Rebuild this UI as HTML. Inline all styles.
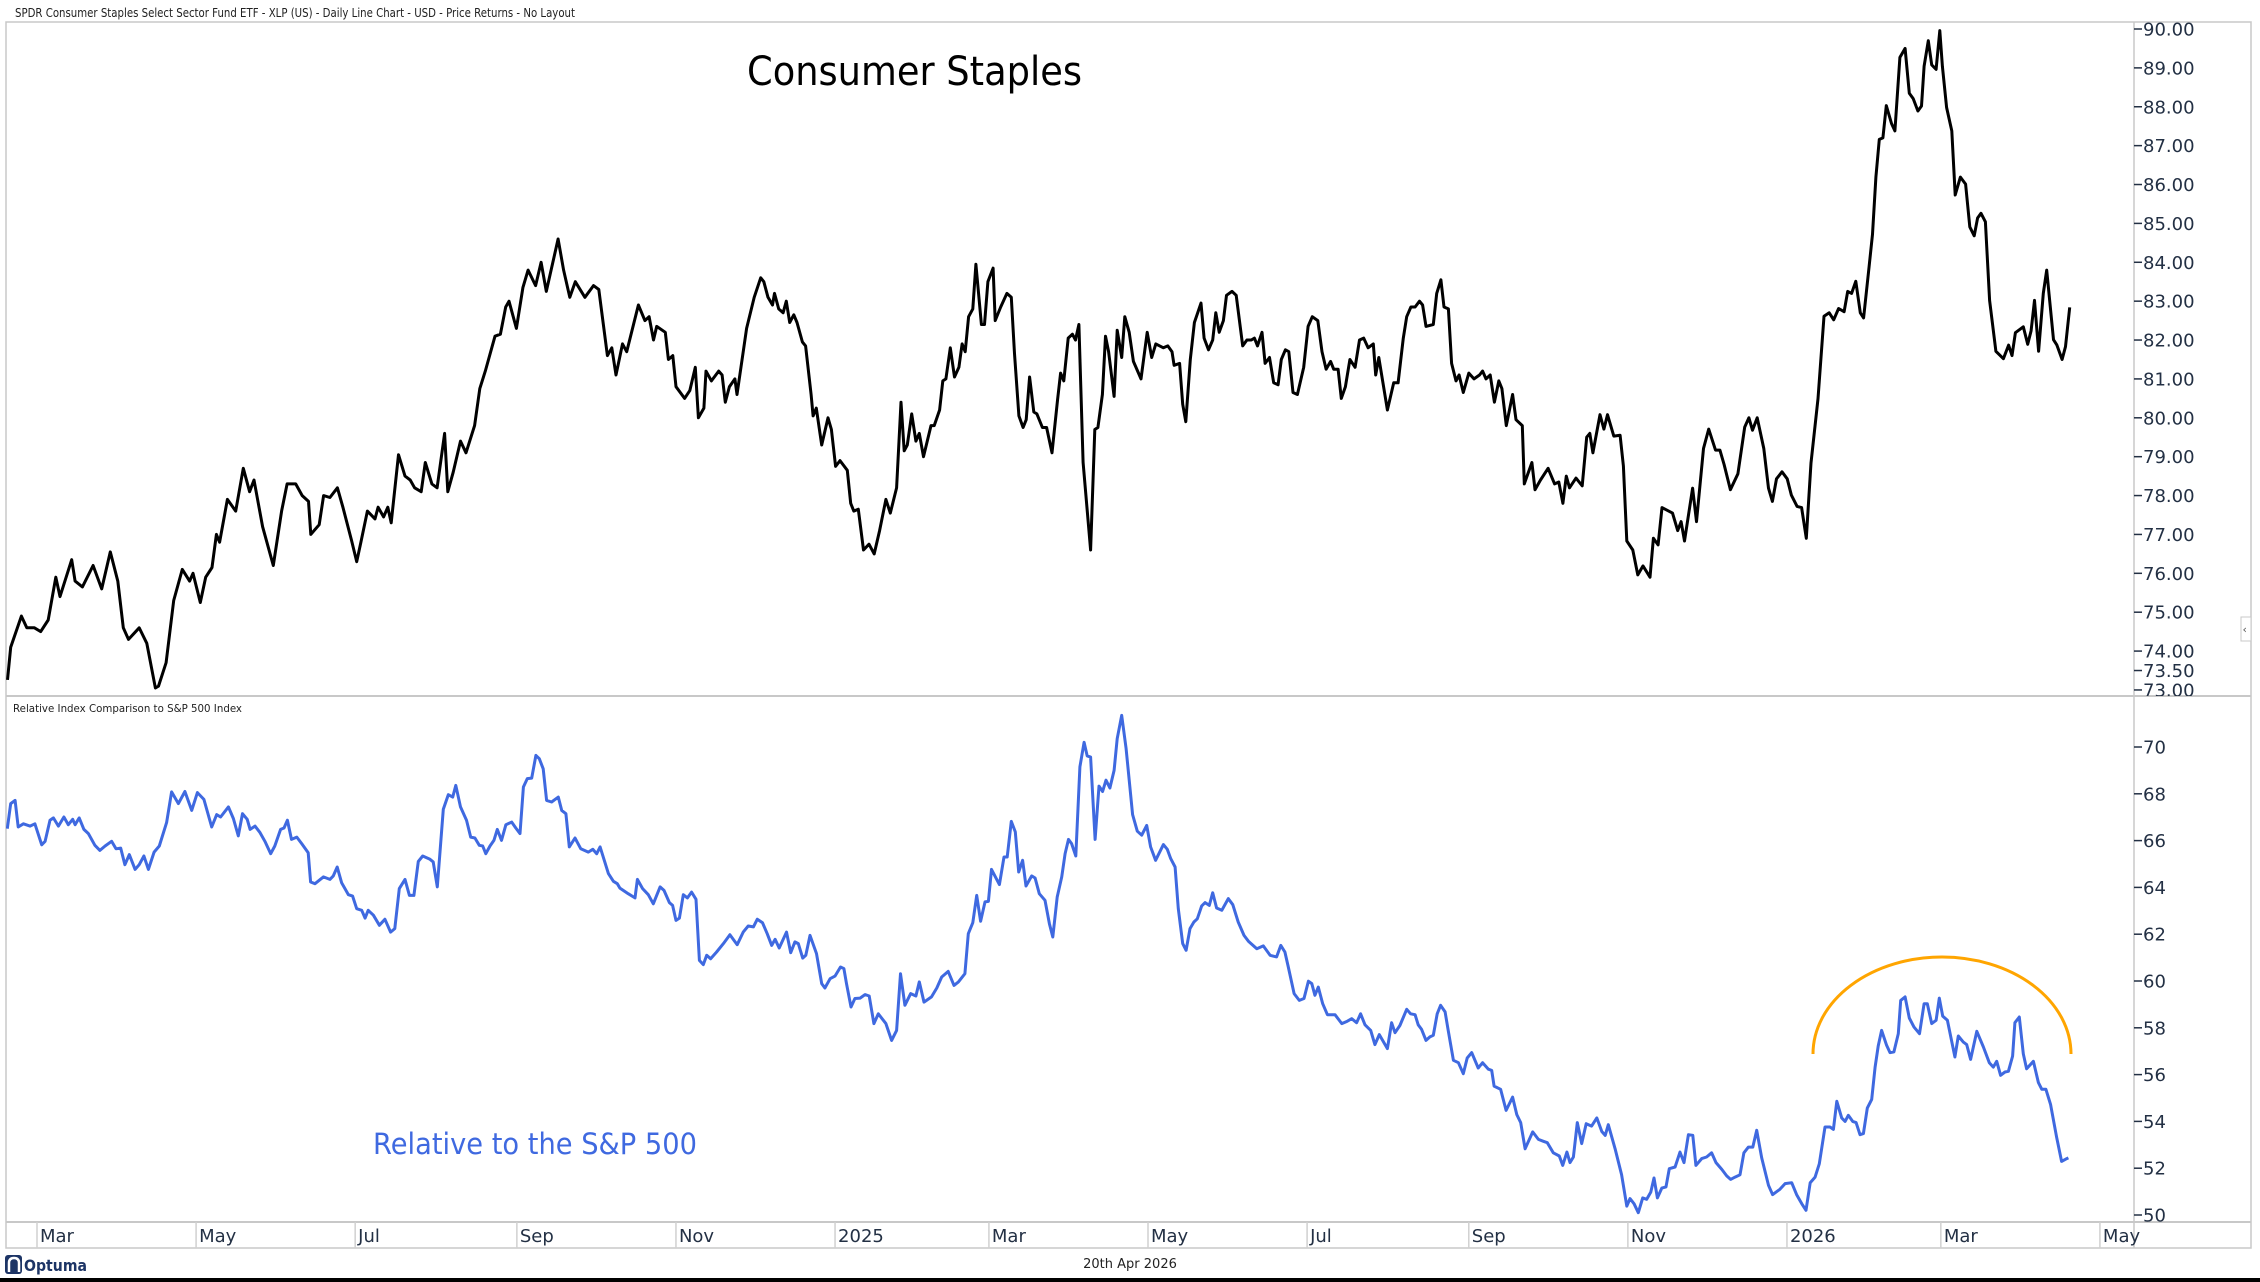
<!DOCTYPE html>
<html>
<head>
<meta charset="utf-8">
<style>
  html,body{margin:0;padding:0;background:#fff;}
  svg{display:block;}
  text{font-family:"DejaVu Sans","Liberation Sans",sans-serif;}
</style>
</head>
<body>
<svg id="chart" width="2260" height="1282" viewBox="0 0 2260 1282" xmlns="http://www.w3.org/2000/svg">
  <defs>
    <clipPath id="topClip"><rect x="6" y="22" width="2128" height="674"/></clipPath>
    <clipPath id="botClip"><rect x="6" y="697" width="2128" height="525"/></clipPath>
    <clipPath id="topAxisClip"><rect x="2134" y="22" width="117" height="674"/></clipPath>
    <clipPath id="botAxisClip"><rect x="2134" y="697" width="117" height="525"/></clipPath>
  </defs>
  <rect x="0" y="0" width="2260" height="1282" fill="#fff"/>
  <text x="15" y="17" font-size="12.5" fill="#222" font-family="Liberation Sans, sans-serif" textLength="560" lengthAdjust="spacingAndGlyphs">SPDR Consumer Staples Select Sector Fund ETF - XLP (US) - Daily Line Chart - USD - Price Returns - No Layout</text>

  <!-- frame -->
  <rect x="6" y="22" width="2245" height="1226" fill="none" stroke="#c8c8c8" stroke-width="1.5"/>
  <line x1="6" y1="696" x2="2251" y2="696" stroke="#c8c8c8" stroke-width="2"/>
  <line x1="2134" y1="22" x2="2134" y2="1248" stroke="#c8c8c8" stroke-width="1.5"/>
  <line x1="6" y1="1222" x2="2251" y2="1222" stroke="#c8c8c8" stroke-width="2"/>

  <g id="topAxis" clip-path="url(#topAxisClip)"></g>
  <g id="botAxis" clip-path="url(#botAxisClip)"></g>
  <g id="xAxis"></g>

  <g clip-path="url(#topClip)">
    <path id="priceLine" fill="none" stroke="#000" stroke-width="3" stroke-linejoin="round"/>
  </g>
  <g clip-path="url(#botClip)">
    <path id="relLine" fill="none" stroke="#3f69e0" stroke-width="3" stroke-linejoin="round"/>
    <path d="M1813,1054 A129,97 0 0 1 2071,1054" fill="none" stroke="#ffa500" stroke-width="3"/>
  </g>

  <text x="747" y="85" font-size="40" fill="#000" font-family="Liberation Sans, sans-serif" textLength="335" lengthAdjust="spacingAndGlyphs">Consumer Staples</text>
  <text x="13" y="712" font-size="11" fill="#222" font-family="Liberation Sans, sans-serif" textLength="229" lengthAdjust="spacingAndGlyphs">Relative Index Comparison to S&amp;P 500 Index</text>
  <text x="373" y="1154" font-size="29" fill="#3f69e0" font-family="Liberation Sans, sans-serif" textLength="324" lengthAdjust="spacingAndGlyphs">Relative to the S&amp;P 500</text>

  <!-- collapse button -->
  <rect x="2241" y="617" width="10" height="24" fill="#fff" stroke="#c8c8c8"/>
  <text x="2242.5" y="633" font-size="11" fill="#555">‹</text>

  <!-- footer -->
  <g>
    <rect x="5" y="1255" width="17" height="19" rx="3" fill="#1d3566"/>
    <path d="M9,1272 L9,1263 Q9,1258 14,1258 Q19,1258 19,1263 L19,1272" fill="none" stroke="#fff" stroke-width="2.5"/>
    <text x="24" y="1271" font-size="16" font-weight="bold" fill="#1d3566" font-family="Liberation Sans, sans-serif" textLength="63" lengthAdjust="spacingAndGlyphs">Optuma</text>
  </g>
  <text x="1130" y="1268" font-size="13" fill="#222" text-anchor="middle" font-family="Liberation Sans, sans-serif">20th Apr 2026</text>
  <rect x="0" y="1278" width="2260" height="4" fill="#000"/>
</svg>

<script>
// ---- data: days since 2024-03-01 ----
const priceDays = [-11.3,-10.1,-6,-3.9,-1,1.4,4.3,7.2,8.8,13.3,14.6,17.4,21.5,24.8,28.1,31,33.1,35.1,39.2,42.1,45.4,46.6,49.5,52.4,55.7,58.5,59.8,62.6,64.7,67.1,68.8,70,73,76.2,79.1,81.5,83.2,86.5,90.6,93.8,95.9,99.2,101.7,104.1,105,108.2,109.9,112.3,115.2,117.3,120.6,122.6,124.2,126.7,129.6,130.8,132.9,134.5,135.8,138.6,141.1,143.1,144.8,147.3,148.9,151.4,153.4,156.3,157.5,159.6,162.4,164.5,167.8,169.8,171.9,175.6,177.7,179.7,181,183.8,186.3,188.3,191.2,193.3,195.3,
199.8,201.9,204.3,206.4,210.1,213.4,215.4,218.7,220.4,222,224.5,226.1,230.6,233.1,234.7,236.4,237.6,240.9,242.1,243.8,245,248.3,250.3,252.4,253.6,255.7,256.5,258.6,261.4,262.7,263.9,265.5,267.6,268.4,270.9,272.1,275,277.5,278.7,280.3,282,282.8,284.4,286.1,287.3,288.6,290.2,291.4,293.5,294.7,296.8,297.6,298.8,300.9,303.3,304.6,306.2,307.9,310.7,312,313.2,314.9,316.9,319,321,323.1,325.5,327.2,329.6,331.3,332.5,333.7,335.4,337,338.3,339.9,342.8,344,346.1,347.3,348.5,350.2,351.8,353.5,354.7,355.9,357.2,358.8,360,362.1,363.3,364.6,366.6,367.4,369.5,371.9,373.6,374.8,376.5,378.1,379.3,380.6,382.2,383.4,385.5,387.1,389.2,391.3,392.5,393.7,395.4,397,398.2,399.5,
401.1,404,405.6,406.8,408.5,409.7,410.9,413,414.2,415.9,417.1,418.8,420.4,423.3,425.7,427.4,429,431.9,433.6,435.2,436,438.1,439.3,440.5,442.2,443.8,446.3,447.5,449.2,450.8,452,453.3,454.9,456.1,458.2,459.8,462.3,463.9,465.6,466.8,468,469.7,470.9,472.6,474.2,475.9,477.1,478.7,480,481.6,483.3,485.7,487.4,489,491.1,492.7,494.3,496,497.2,498.9,500.1,501.7,503.4,505.4,507.1,508.7,510.4,512.4,513.3,514.5,517.8,520.2,521.9,523.9,525.2,526.8,528.4,530.1,531.3,532.6,535.4,536.7,538.3,539.5,541.2,542.4,544.1,545.3,546.9,549,551,553.1,554.3,555.6,557.2,558.8,560.5,561.7,563.4,565.8,567.1,569.5,570.3,573.2,574.4,576.5,579.4,581.9,583.5,585.1,586.4,587.6,590.1,592.5,594.2,595.4,596.6,
599.3,600.8,602.2,604.6,607,608.3,609.6,611.9,613.8,615.8,618.5,619.8,621.6,623.1,627.1,629.1,630.4,631.7,634.8,636.3,639,641,643.6,645.3,646.9,649.3,652.2,654.8,656.4,657.8,659.6,662.1,663.9,665.4,667,669.1,671.1,672.7,674.9,676.6,678.4,680.2,682.9,685.2,687.2,688.9,690.8,692.9,694.3,695.8,697.4,699.1,700.4,702.5,703.8,705.1,706.4,707.8,709.1,711.1,712.4,714.3,716.3,717.9,719.4,721.2,722.6,723.6,725.2,726.5,728.2,729.6,730.6,732.2,734.2,735.5,737.5,739.5,741.1,742.8,744.1,745.4,747.1,748.7,751.1,754,756,757.3,758.6,761.6,763.3,764.6,765.9,767.5,769.3,770.6,773.2,774.5,776.5,777.8,779.4];

const priceValues = [73.26,74.1,74.9,74.6,74.6,74.5,74.8,75.9,75.4,76.35,75.8,75.65,76.2,75.6,76.55,75.8,74.6,74.3,74.6,74.2,73.05,73.1,73.7,75.3,76.1,75.8,76.0,75.25,75.9,76.15,77.0,76.8,77.9,77.6,78.7,78.1,78.4,77.2,76.2,77.6,78.3,78.3,78.0,77.85,77.0,77.25,78.0,77.95,78.2,77.7,76.85,76.3,76.8,77.6,77.4,77.7,77.45,77.7,77.3,79.05,78.5,78.4,78.2,78.1,78.85,78.3,78.2,79.6,78.1,78.6,79.4,79.1,79.8,80.75,81.2,82.1,82.15,82.85,83.0,82.3,83.35,83.8,83.4,84.0,83.25,
84.6,83.8,83.1,83.5,83.1,83.4,83.3,81.6,81.8,81.1,81.9,81.7,82.9,82.5,82.6,82.0,82.35,82.2,81.5,81.6,80.8,80.5,80.7,81.3,80.0,80.25,81.2,80.95,81.2,81.1,80.4,80.8,81.0,80.6,81.75,82.3,83.1,83.6,83.5,83.1,82.9,83.2,82.8,82.7,83.0,82.45,82.65,82.45,81.95,81.85,80.6,80.05,80.25,79.3,80.0,79.7,78.75,78.9,78.65,77.8,77.6,77.65,76.6,76.75,76.5,77.1,77.9,77.55,78.2,80.4,79.15,79.3,80.1,79.4,79.6,79.0,79.8,79.8,80.2,80.95,81.0,81.8,81.05,81.3,81.9,81.7,82.6,82.8,83.95,82.4,82.4,83.5,83.85,82.5,82.85,83.2,83.1,81.65,80.05,79.75,79.95,81.05,80.15,80.1,79.75,79.75,79.1,80.45,81.15,80.95,82.05,82.15,82.0,82.4,
78.85,76.6,79.7,79.75,80.6,82.1,81.7,80.55,82.25,81.55,82.6,82.2,81.45,81.0,82.2,81.55,81.9,81.8,81.85,81.7,81.35,81.4,80.35,79.9,81.5,82.45,82.95,82.05,81.75,82.0,82.7,82.2,82.5,83.15,83.25,83.15,81.85,82.0,82.0,82.05,81.85,82.2,81.4,81.55,80.9,80.85,81.5,81.75,81.7,80.65,80.6,81.3,82.35,82.6,82.5,81.7,81.25,81.45,81.25,81.25,80.5,80.8,81.5,81.3,82.0,82.05,81.8,81.9,81.1,81.55,80.2,80.9,80.9,82.05,82.6,82.85,82.85,83.0,82.9,82.35,82.4,83.2,83.55,82.85,82.8,81.4,80.95,81.1,80.65,81.15,81.0,81.1,81.2,81.0,81.1,80.4,80.95,80.75,79.8,80.6,79.95,79.8,78.3,78.85,78.15,78.4,78.7,78.3,78.35,77.8,78.5,78.2,78.45,78.25,79.5,79.6,79.1,
80.08,79.71,80.08,79.53,79.55,78.76,76.83,76.6,75.96,76.19,75.9,76.9,76.73,77.69,77.55,77.1,77.33,76.83,78.19,77.33,79.21,79.71,79.17,79.17,78.8,78.15,78.56,79.76,80.0,79.68,80.0,79.21,78.19,77.85,78.43,78.61,78.43,78.01,77.72,77.69,76.9,78.84,80.49,82.61,82.7,82.52,82.81,82.73,83.25,83.2,83.51,82.7,82.57,83.89,84.72,86.19,87.16,87.2,88.03,87.57,87.38,89.27,89.5,88.35,88.21,87.89,88.02,89.04,89.7,89.08,88.96,89.96,89.04,87.98,87.38,85.73,86.19,86.01,84.91,84.68,85.14,85.26,85.04,83.02,81.71,81.52,81.87,81.6,82.19,82.34,81.89,82.24,83.02,81.71,83.2,83.8,82.01,81.87,81.5,81.83,82.84];

const relDays = [-11.4,-10.1,-8.4,-7.2,-5.2,-2.7,-0.8,1.8,3.1,5,6.3,8.2,10.3,12,13.7,14.6,16.2,18,19.7,22.2,24.1,26.1,28.6,30.3,32.1,33.7,35.4,37.6,39.2,41,42.7,44.9,46.9,49.7,51.6,54.2,56.7,59.3,61.5,64,67,68.9,70.4,73.4,75.3,77.2,78.8,80.6,81.7,83.6,85.5,87.4,89.6,91.2,93.4,94.7,96,97.6,99.6,101.5,104,104.9,106.6,109.8,112.3,113.6,115.1,116.8,119.4,121,122.6,124.5,125.8,127,129,131.3,133.4,135.6,137.2,138.9,141.1,142.8,144.5,146.2,147.9,150.7,151.9,153.5,155.8,157.7,159.4,160.6,162.4,164.7,166.3,167.9,169.6,170.9,172.1,173.7,175.2,176.5,178.1,179.8,182,183.6,
185.2,186.5,188,189.7,191.3,192.6,194.1,195.4,197.3,199.9,201.2,202.8,204.1,206.3,208.5,211.4,213.1,214.6,215.9,219.1,221,222.5,223.5,226.7,229.3,230.2,232.2,234.4,236.3,238.9,240.4,242.5,243.7,245,246.3,247.8,249.4,251,252.7,254,255.5,256.8,258.3,260.6,263.2,265.7,268.5,270.8,272.7,274.7,276.2,278.2,280,281.7,283,284.6,287.4,289,290.6,291.9,293.6,294.8,296.4,298.9,300.9,302.1,304.1,306,308.1,309.4,310.4,312.1,313.6,315.6,317.5,319.1,320.9,322.6,325.5,327.7,329.6,331.1,332.8,335,337,338.3,340.1,343,345,346.9,349.4,351.6,353.3,355.8,357.1,358.8,360.3,361.8,363.5,364.8,366,369,370.8,372,373.6,375.1,376.4,377.9,379.2,381.4,382.7,384.3,
386.5,388.2,389.5,391.2,392.9,394.2,395.5,396.7,398.3,399.9,401.5,402.7,404,405.7,407.2,408.6,409.9,411.4,413,414.2,415.9,417.6,420.1,421.9,423.6,425.5,427,428.9,431.9,433.4,434.7,436.4,437.6,439.3,440.6,442.1,443.6,444.9,446.6,447.9,449.5,450.8,452.3,454.3,456.8,458.5,460.6,462.8,464.5,467.7,470.2,472.8,475.3,476.9,478.5,479.8,482,484,485.8,487.5,488.8,490,491.3,493,494.8,497.7,500.3,502.4,504.1,506,507.5,509.2,511.4,513,514.7,517.8,519.4,520.7,522.6,525.2,526.7,528.4,529.6,530.9,532.6,534.1,535.4,536.9,538.2,539.9,541.1,543.1,545,546.9,548.4,550.1,552.6,554.3,556.5,557.8,558.7,561.2,563.3,565.8,567.4,568.9,570.6,573.5,575.7,577.6,579.1,581.4,583.7,
585,586.6,587.8,589.1,590.6,592.3,594,596.1,598.1,600,601.3,602.5,605.1,607.6,609.6,610.8,612.4,614,615.7,617.2,618.8,620,621.3,623,624.6,625.9,628.1,630,631.5,633.2,634.9,636.1,638.3,640.2,642.1,643.8,646,647.9,649.4,651.1,653,654.5,656.2,657.9,659.4,661.3,663.9,665.5,668.3,670.3,672.8,674.7,676.7,678.3,679.9,681.8,683.4,685.6,687.5,688.8,690.1,692,693.3,694.5,696.2,697.5,699,700.3,701.8,703.5,704.8,706,707.3,709.2,710.5,712,713.7,714.6,716.3,717.9,719.7,721.8,723.6,724.8,726.5,728.2,729.4,730.7,732.5,735.4,736.7,738.6,739.9,741.4,743.8,746.3,748.6,750.1,751.4,752.9,754.6,755.9,757.5,758.4,760.1,761.6,762.9,765.5,767.4,768.7,770.3,772.1,774.4,776.3,778.3,778.9];

const relValues = [66.51,67.58,67.72,66.58,66.72,66.62,66.72,65.82,65.97,66.87,66.97,66.62,67.01,66.68,66.91,66.68,66.97,66.48,66.3,65.8,65.58,65.77,65.97,65.65,65.68,64.97,65.4,64.77,64.97,65.34,64.77,65.51,65.77,66.77,68.08,67.58,68.1,67.29,68.05,67.76,66.58,67.11,67.01,67.44,66.94,66.2,67.15,66.91,66.48,66.62,66.34,65.97,65.44,65.77,66.48,66.54,66.87,66.05,66.15,65.87,65.48,64.23,64.16,64.45,64.34,64.49,64.87,64.2,63.69,63.63,63.09,63.02,62.69,63.02,62.81,62.38,62.64,62.09,62.24,63.95,64.34,63.66,63.66,65.11,65.34,65.2,65.09,64.02,67.34,67.96,67.86,68.36,67.44,66.87,66.15,66.11,65.8,65.77,65.44,65.77,66.01,66.48,66.01,66.68,66.79,66.54,
66.3,68.29,68.65,68.67,69.64,69.5,69.07,67.72,67.65,67.86,67.29,67.15,65.73,66.11,65.65,65.51,65.63,65.44,65.73,64.59,64.26,64.16,63.97,63.73,63.55,64.34,63.95,63.69,63.3,64.02,63.87,63.35,63.23,62.59,62.69,63.69,63.55,63.8,63.49,60.88,60.7,61.1,60.95,61.24,61.6,61.98,61.55,62.09,62.35,62.31,62.64,62.49,62.02,61.52,61.78,61.41,62.09,61.21,61.67,61.6,60.98,61.1,61.95,61.17,59.89,59.7,60.1,60.21,60.6,60.53,59.89,58.89,59.25,59.27,59.42,59.36,58.18,58.6,58.18,57.46,57.89,60.31,58.96,59.46,59.36,59.96,59.1,59.32,59.7,60.17,60.41,59.81,59.96,60.31,62.02,62.49,63.66,62.55,63.38,63.4,64.77,64.12,65.3,65.3,66.82,66.37,64.66,65.16,64.06,64.49,64.4,63.73,
63.45,62.45,61.88,63.59,64.44,65.44,66.05,65.87,65.34,69.15,70.2,69.62,69.57,66.05,68.33,68.1,68.58,68.25,69.0,70.36,71.35,69.93,67.11,66.4,66.23,66.65,65.73,65.16,65.83,65.63,65.23,64.87,63.09,61.6,61.31,62.24,62.52,62.66,63.21,63.35,63.23,63.77,63.12,63.02,63.52,63.26,62.52,61.95,61.7,61.38,61.5,61.1,61.03,61.52,61.24,60.6,59.46,59.17,59.25,59.99,59.89,59.39,59.74,59.03,58.56,58.56,58.18,58.28,58.39,58.22,58.6,58.13,57.89,57.28,57.71,57.11,58.22,57.79,58.1,58.79,58.6,58.56,58.13,57.93,57.46,57.61,57.68,58.6,58.96,58.68,57.89,56.61,56.51,56.04,56.71,56.94,56.28,56.51,56.23,56.18,55.51,55.37,54.47,55.04,54.29,53.95,52.83,53.55,53.23,53.15,53.09,52.66,52.52,
52.12,52.69,52.24,52.48,53.95,53.05,53.9,53.8,54.15,53.57,53.4,53.86,52.83,51.72,50.38,50.7,50.48,50.1,50.73,50.67,50.98,51.58,50.73,51.15,51.2,51.98,52.05,52.69,52.24,53.43,53.4,52.12,52.41,52.48,52.66,52.24,51.95,51.67,51.52,51.62,51.72,52.66,52.9,52.9,53.62,52.44,51.27,50.87,51.1,51.34,51.38,50.87,50.48,50.2,51.38,51.62,52.19,53.76,53.76,53.66,54.86,54.15,54.0,54.26,54.0,53.95,53.43,53.48,54.57,54.94,56.32,57.22,57.89,57.25,56.94,56.97,57.75,59.17,59.32,58.42,58.03,57.75,59.03,59.03,58.18,58.32,59.27,58.5,58.32,56.75,57.65,57.39,57.28,56.65,57.85,57.18,56.51,56.32,56.57,55.97,56.11,56.14,56.79,58.22,58.46,56.89,56.25,56.57,55.66,55.37,55.37,54.72,53.33,52.29,52.41,52.44];

const priceTicks = [90,89,88,87,86,85,84,83,82,81,80,79,78,77,76,75,74,73.5,73];
const relTicks = [70,68,66,64,62,60,58,56,54,52,50];
const monthLabels = ["Mar","May","Jul","Sep","Nov","2025","Mar","May","Jul","Sep","Nov","2026","Mar","May"];
const monthDays = [0,61,122,184,245,306,365,426,487,549,610,671,730,791];

// ---- scales ----
function xOf(day){ return 37 + day * 2.608; }
function yTop(v){ return 29 + (90 - v) * 38.88; }
function yBot(v){ return 747 + (70 - v) * 23.4; }
const NS = "http://www.w3.org/2000/svg";

function buildPath(days, vals, yf){
  let d = "";
  const n = Math.min(days.length, vals.length);
  for (let i = 0; i < n; i++){
    d += (i ? "L" : "M") + xOf(days[i]).toFixed(1) + "," + yf(vals[i]).toFixed(1);
  }
  return d;
}
document.getElementById("priceLine").setAttribute("d", buildPath(priceDays, priceValues, yTop));
document.getElementById("relLine").setAttribute("d", buildPath(relDays, relValues, yBot));

// ---- y axes ----
const topAxis = document.getElementById("topAxis");
priceTicks.forEach(function(v){
  const y = yTop(v);
  const t = document.createElementNS(NS, "line");
  t.setAttribute("x1", 2134); t.setAttribute("x2", 2142);
  t.setAttribute("y1", y); t.setAttribute("y2", y);
  t.setAttribute("stroke", "#233044"); t.setAttribute("stroke-width", "1.5");
  
  
  topAxis.appendChild(t);
  const tx = document.createElementNS(NS, "text");
  tx.setAttribute("x", 2143); tx.setAttribute("y", y + 6.5);
  tx.setAttribute("font-size", "18"); tx.setAttribute("fill", "#233044");
  tx.textContent = v.toFixed(2);
  
  
  topAxis.appendChild(tx);
});
const botAxis = document.getElementById("botAxis");
relTicks.forEach(function(v){
  const y = yBot(v);
  const t = document.createElementNS(NS, "line");
  t.setAttribute("x1", 2134); t.setAttribute("x2", 2142);
  t.setAttribute("y1", y); t.setAttribute("y2", y);
  t.setAttribute("stroke", "#233044"); t.setAttribute("stroke-width", "1.5");
  
  
  botAxis.appendChild(t);
  const tx = document.createElementNS(NS, "text");
  tx.setAttribute("x", 2143); tx.setAttribute("y", y + 6.5);
  tx.setAttribute("font-size", "18"); tx.setAttribute("fill", "#233044");
  tx.textContent = String(v);
  
  
  botAxis.appendChild(tx);
});

// ---- x axis ----
const xAxis = document.getElementById("xAxis");
monthLabels.forEach(function(lbl, i){
  const x = xOf(monthDays[i]);
  const l = document.createElementNS(NS, "line");
  l.setAttribute("x1", x); l.setAttribute("x2", x);
  l.setAttribute("y1", 1222); l.setAttribute("y2", 1248);
  l.setAttribute("stroke", "#d0d0d0"); l.setAttribute("stroke-width", "1.5");
  
  
  xAxis.appendChild(l);
  const tx = document.createElementNS(NS, "text");
  tx.setAttribute("x", x + 3); tx.setAttribute("y", 1242);
  tx.setAttribute("font-size", "18"); tx.setAttribute("fill", "#233044");
  tx.textContent = lbl;
  
  
  xAxis.appendChild(tx);
});
</script>
</body>
</html>
